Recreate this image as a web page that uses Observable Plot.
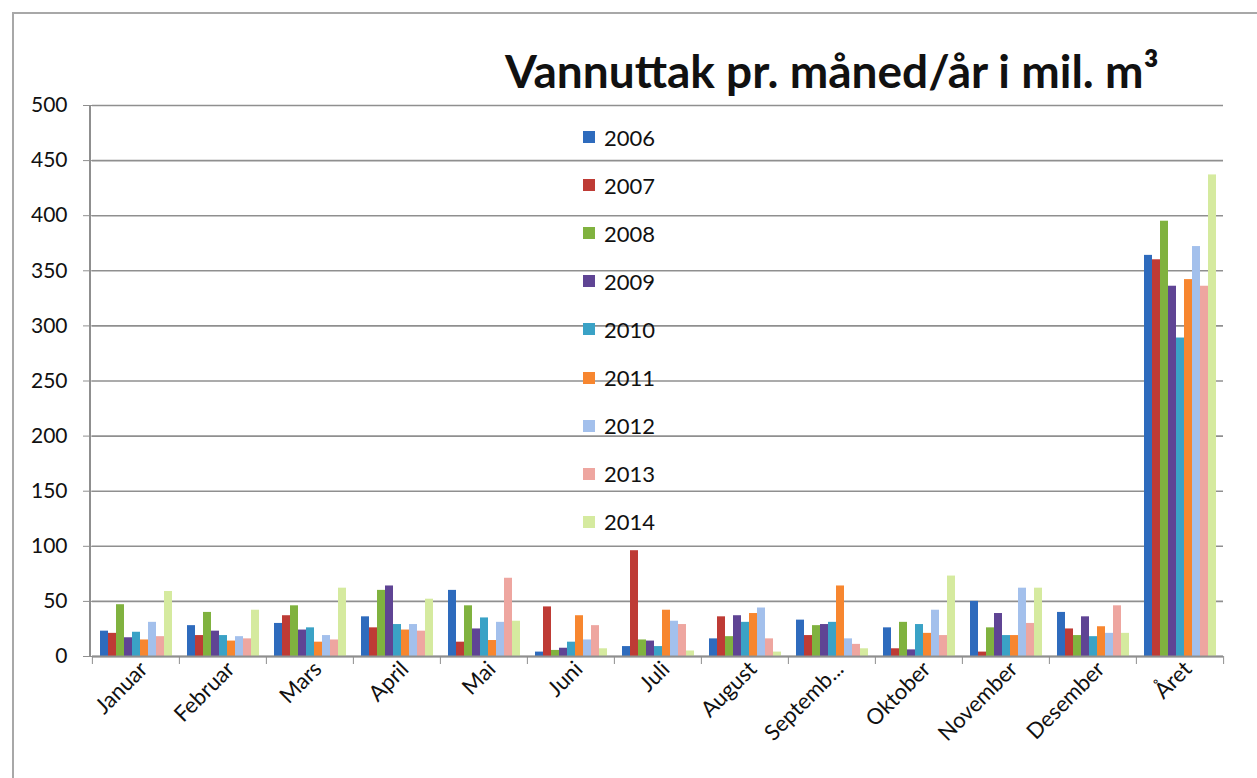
<!DOCTYPE html>
<html>
<head>
<meta charset="utf-8">
<script src="https://cdn.jsdelivr.net/npm/d3@7"></script>
<script src="https://cdn.jsdelivr.net/npm/@observablehq/plot@0.6"></script>
<style>
  html, body { margin: 0; padding: 0; background: #fff; overflow: hidden; width: 1257px; height: 778px; }
  #wrap { position: relative; width: 1257px; height: 778px; overflow: hidden; background: #fff; font-family: Lato, "Open Sans", sans-serif; }
  #frameTop { position: absolute; left: 12px; top: 12px; width: 1245px; height: 0; border-top: 2px solid #a8a8a8; }
  #frameLeft { position: absolute; left: 12px; top: 12px; width: 0; height: 766px; border-left: 2px solid #a8a8a8; }
  #chart { position: absolute; left: 0; top: 0; width: 1257px; height: 778px; overflow: hidden; }
  #title { position: absolute; left: 505px; top: 48px; font-weight: 700; font-size: 46px; line-height: 1; color: #111; white-space: nowrap; }
  #legend { position: absolute; left: 583px; top: 113px; }
  .lg-row { display: flex; align-items: center; height: 48.1px; font-size: 22px; color: #111; }
  .lg-sw { width: 12px; height: 12px; margin-right: 9px; }
</style>
</head>
<body>
<div id="wrap">
  <div id="frameTop"></div>
  <div id="frameLeft"></div>
  <div id="chart"></div>
  <div id="title">Vannuttak pr. måned/år i mil. m³</div>
  <div id="legend"></div>
</div>
<script>
const months = ["Januar", "Februar", "Mars", "April", "Mai", "Juni", "Juli", "August", "Septemb...", "Oktober", "November", "Desember", "Året"];
const years = ["2006", "2007", "2008", "2009", "2010", "2011", "2012", "2013", "2014"];
const colors = ["#2e6bbd", "#be3b35", "#80b23f", "#5f4494", "#3aa2c6", "#f7862f", "#a3c0ec", "#eea6a0", "#d5ea9f"];
const yTicks = [0, 50, 100, 150, 200, 250, 300, 350, 400, 450, 500];

const v2006 = [23, 28, 30, 36, 60, 4, 9, 16, 33, 26, 50, 40, 364];
const v2007 = [21, 19, 37, 26, 13, 45, 96, 36, 19, 7, 4, 25, 360];
const v2008 = [47, 40, 46, 60, 46, 5.5, 15, 18, 28, 31, 26, 19, 395];
const v2009 = [17, 23, 24, 64, 25, 7.5, 14, 37, 29, 6, 39, 36, 336];
const v2010 = [22, 19, 26, 29, 35, 13, 9, 31, 31, 29, 19, 18, 289];
const v2011 = [15, 14, 13, 24, 14.5, 37, 42, 39, 64, 21, 19, 27, 342];
const v2012 = [31, 18, 19, 29, 31, 15, 32, 44, 16, 42, 62, 21, 372];
const v2013 = [18, 16, 15, 23, 71, 28, 29, 16, 11, 19, 30, 46, 336];
const v2014 = [59, 42, 62, 52, 32, 7, 5, 4, 7, 73, 62, 21, 437];

const series = [v2006, v2007, v2008, v2009, v2010, v2011, v2012, v2013, v2014];
const data = years.flatMap((yr, j) => months.map((m, i) => ({month: m, year: yr, value: series[j][i]})));

const W = 1257, H = 778;
const mL = 90, mR = 33, mT = 105, mB = 122;
const halfStep = (W - mL - mR) / months.length / 2;
const gray = "#8f8f8f";

const plot = Plot.plot({
  width: W, height: H,
  marginLeft: mL, marginRight: mR, marginTop: mT, marginBottom: mB,
  style: {fontFamily: "Lato, 'Open Sans', sans-serif", fontSize: "20px", color: "#111", background: "transparent", overflow: "hidden"},
  facet: {data, x: "month"},
  fx: {domain: months, padding: 0, label: null, axis: null},
  x: {domain: years, paddingInner: 0, paddingOuter: 0.6, axis: null},
  y: {domain: [0, 500], axis: null},
  color: {domain: years, range: colors},
  marks: [
    Plot.ruleY(yTicks, {stroke: gray, strokeWidth: 1.6}),
    Plot.barY(data, {x: "year", y: "value", fill: "year"}),
    Plot.ruleY([0], {stroke: gray, strokeWidth: 2}),
    Plot.axisY({ticks: yTicks, tickSize: 9, tickPadding: 16, stroke: gray, fill: "#111", fontSize: 21, label: null}),
    Plot.axisFx({anchor: "bottom", tickRotate: -45, tickSize: 0, tickPadding: 9, label: null, fill: "#111", fontSize: 22, textAnchor: "end", dx: 8}),
    Plot.axisFx({anchor: "bottom", tickSize: 8, text: null, label: null, stroke: gray, dx: -halfStep}),
    Plot.axisFx({anchor: "bottom", ticks: [months[months.length - 1]], tickSize: 8, text: null, label: null, stroke: gray, dx: halfStep})
  ]
});
document.getElementById("chart").appendChild(plot);

// y axis line
d3.select(plot).append("line")
  .attr("x1", mL).attr("x2", mL)
  .attr("y1", plot.scale("y").apply(500)).attr("y2", plot.scale("y").apply(0))
  .attr("stroke", gray).attr("stroke-width", 2);

// legend
const lg = d3.select("#legend");
years.forEach((yr, j) => {
  const row = lg.append("div").attr("class", "lg-row");
  row.append("div").attr("class", "lg-sw").style("background", colors[j]);
  row.append("span").text(yr);
});
</script>
</body>
</html>
